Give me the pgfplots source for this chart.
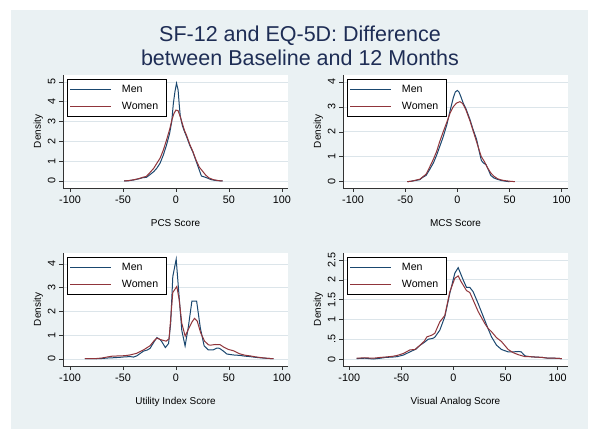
\documentclass[border=0pt]{standalone}
\usepackage{fontspec}
\setmainfont{Liberation Sans}
\usepackage{pgfplots}
\pgfplotsset{compat=1.18}
\definecolor{bgc}{RGB}{234,241,243}
\definecolor{gridc}{RGB}{220,229,234}
\definecolor{menc}{RGB}{26,71,111}
\definecolor{womc}{RGB}{144,53,59}
\definecolor{titc}{RGB}{30,45,85}
\pgfplotsset{
 panel/.style={
  scale only axis, width=225bp, height=113bp, anchor=south west,
  axis lines*=left, axis line style={black!80, line width=0.6bp},
  axis background/.style={fill=white},
  tick align=outside, tick pos=left, major tick length=4bp,
  tick style={black!80, line width=0.6bp},
  ymajorgrids, grid style={gridc, line width=0.8bp},
  xtick={-100,-50,0,50,100}, xticklabels={-100,-50,0,50,100},
  /pgf/number format/assume math mode=true,
  ticklabel style={font=\fontsize{10.8bp}{12bp}\selectfont},
  yticklabel style={rotate=90, anchor=south},
  label style={font=\fontsize{10.8bp}{12bp}\selectfont},
  ylabel={Density},
  every axis x label/.style={at={(axis description cs:0.5,-0.3416)}, anchor=base},
  every axis y label/.style={at={(axis description cs:-0.0978,0.5)}, rotate=90, anchor=base},
  legend cell align=left,
  legend style={at={(axis description cs:0.0163,0.963)}, anchor=north west, draw=black, line width=0.6bp, fill=white,
    font=\fontsize{10.6bp}{12bp}\selectfont, inner xsep=3bp, inner ysep=3.5bp, row sep=4bp},
  legend image code/.code={\draw[#1] (0bp,0bp) -- (41bp,0bp); \path (49bp,0bp);},
  every axis plot/.append style={line width=1bp},
 }
}
\begin{document}
\begin{tikzpicture}
\useasboundingbox (0,0) rectangle (600bp,440bp);
\fill[white] (0,0) rectangle (600bp,440bp);
\fill[bgc] (11bp,11bp) rectangle (588bp,430bp);
\node[font=\fontsize{21.5bp}{24bp}\selectfont, text=titc, anchor=base] at (300bp,398bp) {SF-12 and EQ-5D: Difference};
\node[font=\fontsize{21.5bp}{24bp}\selectfont, text=titc, anchor=base] at (300bp,374.5bp) {between Baseline and 12 Months};

% Top-left: PCS
\begin{axis}[panel, at={(63bp,252bp)}, xmin=-106.6, xmax=105.7, ymin=-0.354, ymax=5.35,
  ytick={0,1,2,3,4,5}, yticklabels={0,1,2,3,4,5}, xlabel={PCS Score}]
\addplot[menc] coordinates {(-49,0) (-45,0.01) (-40,0.05) (-35,0.11) (-31,0.17) (-28,0.18) (-25,0.3) (-21,0.47) (-18,0.65) (-15,0.9) (-12,1.3) (-9,1.8) (-6,2.4) (-4,3.0) (-2.5,3.9) (-1,4.5) (0.5,4.93) (2,4.6) (3,3.9) (4,3.3) (6,2.8) (8,2.5) (10,2.24) (13,1.8) (16,1.45) (19,1.0) (22,0.55) (24,0.25) (27,0.2) (30,0.14) (33,0.07) (37,0.03) (41,0.01) (44,0)};
\addlegendentry{Men}
\addplot[womc] coordinates {(-49,0) (-45,0.02) (-40,0.06) (-35,0.12) (-31,0.19) (-28,0.23) (-25,0.4) (-21,0.64) (-18,0.9) (-15,1.15) (-12,1.55) (-9,2.05) (-6,2.6) (-4,3.05) (-2,3.4) (0,3.58) (2,3.55) (4,3.25) (6,2.9) (8,2.55) (10,2.3) (13,1.85) (16,1.48) (19,1.05) (22,0.7) (25,0.5) (28,0.3) (31,0.16) (35,0.07) (40,0.02) (44,0)};
\addlegendentry{Women\hspace*{3bp}}
\end{axis}

% Top-right: MCS
\begin{axis}[panel, at={(343bp,252bp)}, xmin=-109.6, xmax=106, ymin=-0.253, ymax=4.28,
  ytick={0,1,2,3,4}, yticklabels={0,1,2,3,4}, xlabel={MCS Score}]
\addplot[menc] coordinates {(-48,0) (-44,0.02) (-40,0.05) (-36,0.08) (-33,0.18) (-30,0.25) (-26.4,0.5) (-23,0.75) (-20,1.05) (-17,1.4) (-13.6,1.8) (-10,2.3) (-7,2.85) (-4,3.35) (-2,3.6) (0,3.66) (1.5,3.6) (3,3.45) (5.6,3.15) (8,2.95) (12,2.5) (15,2.1) (18.4,1.7) (21,1.2) (23,0.85) (25,0.75) (27.5,0.68) (30,0.45) (32,0.25) (35,0.15) (38,0.1) (42,0.05) (46,0.02) (50,0)};
\addlegendentry{Men}
\addplot[womc] coordinates {(-48,0) (-44,0.02) (-40,0.06) (-36,0.1) (-33,0.2) (-30,0.3) (-26.4,0.6) (-23,0.9) (-20,1.2) (-17,1.6) (-13.6,2.0) (-10,2.4) (-7,2.75) (-4,3.0) (-1,3.15) (2.4,3.21) (5,3.14) (8,2.9) (12,2.45) (15,2.05) (18.4,1.6) (21,1.25) (23,1.0) (26,0.8) (29,0.55) (32,0.35) (35,0.22) (38.4,0.12) (42,0.07) (46,0.04) (50,0.02) (55,0)};
\addlegendentry{Women\hspace*{3bp}}
\end{axis}

% Bottom-left: Utility
\begin{axis}[panel, at={(63bp,74bp)}, xmin=-106.6, xmax=105.7, ymin=-0.295, ymax=4.46,
  ytick={0,1,2,3,4}, yticklabels={0,1,2,3,4}, xlabel={Utility Index Score}]
\addplot[menc] coordinates {(-86,0.02) (-80,0.02) (-75,0.01) (-70,0.02) (-65,0.04) (-60,0.05) (-53,0.07) (-48,0.09) (-43,0.1) (-40,0.08) (-37,0.13) (-30.7,0.33) (-27,0.38) (-24.4,0.45) (-21,0.7) (-18,0.9) (-15,0.82) (-13.4,0.73) (-10,0.48) (-7,0.65) (-5,1.5) (-3,3.47) (0.2,4.2) (3,2.6) (5.5,1.2) (8.6,0.55) (11.7,1.36) (15,2.43) (19.5,2.43) (23,1.3) (26.6,0.55) (30.6,0.38) (35,0.38) (38.6,0.46) (41,0.45) (44.8,0.33) (48,0.21) (54,0.17) (60.5,0.15) (65,0.12) (70,0.1) (75,0.07) (79.4,0.05) (85,0.03) (92,0.01)};
\addlegendentry{Men}
\addplot[womc] coordinates {(-86,0.02) (-80,0.02) (-75,0.02) (-70,0.04) (-65.4,0.08) (-60,0.12) (-53,0.13) (-48,0.14) (-43.3,0.17) (-37,0.24) (-30.7,0.38) (-24.4,0.56) (-21,0.75) (-18,0.88) (-15,0.82) (-13.4,0.8) (-9.3,0.75) (-6.5,0.85) (-5,1.7) (-3,2.8) (0.8,3.05) (3,2.5) (5.5,1.5) (8.7,0.96) (11.7,1.25) (15,1.55) (17.5,1.71) (20,1.6) (23.3,1.1) (27,0.75) (30.6,0.6) (32.3,0.58) (37,0.61) (41.7,0.6) (45,0.5) (49.6,0.4) (54,0.35) (60,0.22) (65,0.16) (70,0.13) (75,0.09) (80,0.06) (86,0.03) (92,0.01)};
\addlegendentry{Women\hspace*{3bp}}
\end{axis}

% Bottom-right: VAS
\begin{axis}[panel, at={(343bp,74bp)}, xmin=-106, xmax=109.9, ymin=-0.177, ymax=2.68,
  ytick={0,0.5,1,1.5,2,2.5}, yticklabels={0,.5,1,1.5,2,2.5}, xlabel={Visual Analog Score}]
\addplot[menc] coordinates {(-93,0.01) (-85,0.02) (-77,0.0) (-70,0.02) (-65,0.04) (-58,0.05) (-54,0.06) (-48,0.1) (-41.8,0.18) (-36,0.25) (-32,0.35) (-28,0.42) (-24.2,0.5) (-20,0.52) (-17.9,0.55) (-13.1,0.73) (-8.3,1.07) (-3.5,1.66) (1.3,2.17) (4.5,2.31) (7,2.15) (9.3,2.0) (12.5,1.81) (15.7,1.81) (18.9,1.7) (23.7,1.4) (30,0.98) (33,0.78) (36.5,0.56) (41.3,0.35) (46.1,0.24) (52.5,0.18) (57.3,0.18) (62.1,0.19) (65,0.18) (68.5,0.08) (73,0.06) (78,0.05) (85,0.04) (91,0.02) (97,0.02) (104,0.01)};
\addlegendentry{Men}
\addplot[womc] coordinates {(-93,0.02) (-85,0.03) (-77,0.02) (-70,0.04) (-65,0.05) (-58,0.07) (-54,0.09) (-48,0.14) (-41.8,0.23) (-37,0.24) (-32,0.35) (-28,0.45) (-25.5,0.56) (-21,0.6) (-17.9,0.65) (-13.1,0.94) (-8.3,1.1) (-3.5,1.7) (1.3,2.04) (4.5,2.1) (7,1.97) (9.3,1.87) (12.5,1.73) (15.7,1.68) (18.9,1.49) (23.7,1.2) (30,0.9) (33,0.78) (36.5,0.69) (41.3,0.54) (46.1,0.44) (52.5,0.24) (57.3,0.16) (62.1,0.11) (68.5,0.06) (73,0.06) (78,0.05) (85,0.04) (91,0.02) (97,0.02) (104,0.01)};
\addlegendentry{Women\hspace*{3bp}}
\end{axis}
\end{tikzpicture}
\end{document}
